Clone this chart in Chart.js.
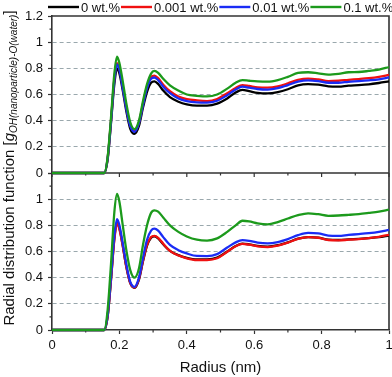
<!DOCTYPE html>
<html>
<head>
<meta charset="utf-8">
<script src="https://cdn.jsdelivr.net/npm/chart.js@4"></script>
<style>
  html, body { margin: 0; padding: 0; background: #fff; }
  #chart { display: block; }
</style>
</head>
<body>
<canvas id="chart" width="392" height="377"></canvas>
<script>
// radius (nm) sample points
const radius = [0, 0.155, 0.165, 0.175, 0.185, 0.193, 0.2, 0.21, 0.22, 0.232,
  0.245, 0.258, 0.27, 0.282, 0.294, 0.304, 0.315, 0.33, 0.35, 0.375,
  0.40, 0.43, 0.46, 0.49, 0.52, 0.545, 0.565, 0.585, 0.61, 0.64,
  0.67, 0.70, 0.73, 0.76, 0.79, 0.82, 0.85, 0.88, 0.91, 0.94, 0.97, 1.0];

const seriesLabels = ['0 wt.%', '0.001 wt.%', '0.01 wt.%', '0.1 wt.%'];
const seriesColors = ['#000000', '#f01010', '#1a2cf5', '#1c9a1c'];

// upper panel
const upper0 = [0, 0, 0.10, 0.38, 0.68, 0.80, 0.76, 0.63, 0.48, 0.34,
  0.30, 0.36, 0.50, 0.62, 0.69, 0.70, 0.68, 0.63, 0.58, 0.545,
  0.525, 0.515, 0.515, 0.53, 0.57, 0.615, 0.635, 0.625, 0.612, 0.608,
  0.618, 0.64, 0.67, 0.68, 0.675, 0.662, 0.66, 0.668, 0.672, 0.678, 0.688, 0.70];
const upper0001 = [0, 0, 0.11, 0.40, 0.72, 0.84, 0.80, 0.66, 0.51, 0.37,
  0.32, 0.385, 0.53, 0.66, 0.735, 0.745, 0.725, 0.675, 0.625, 0.585,
  0.565, 0.555, 0.55, 0.565, 0.61, 0.65, 0.672, 0.665, 0.655, 0.652,
  0.662, 0.685, 0.712, 0.722, 0.715, 0.702, 0.705, 0.712, 0.718, 0.725, 0.735, 0.75];
const upper001 = [0, 0, 0.11, 0.39, 0.71, 0.83, 0.79, 0.65, 0.50, 0.36,
  0.315, 0.38, 0.52, 0.65, 0.72, 0.73, 0.71, 0.66, 0.61, 0.57,
  0.55, 0.54, 0.538, 0.552, 0.595, 0.638, 0.66, 0.652, 0.642, 0.638,
  0.648, 0.672, 0.698, 0.708, 0.702, 0.69, 0.69, 0.697, 0.702, 0.708, 0.716, 0.73];
const upper01 = [0, 0, 0.12, 0.42, 0.76, 0.89, 0.84, 0.70, 0.54, 0.39,
  0.335, 0.40, 0.55, 0.68, 0.76, 0.78, 0.765, 0.72, 0.67, 0.63,
  0.60, 0.59, 0.585, 0.60, 0.645, 0.69, 0.71, 0.705, 0.70, 0.698,
  0.71, 0.735, 0.765, 0.77, 0.762, 0.752, 0.758, 0.77, 0.772, 0.78, 0.79, 0.81];

// lower panel
const lower0 = [0, 0, 0.10, 0.385, 0.70, 0.825, 0.78, 0.645, 0.49, 0.36,
  0.322, 0.385, 0.525, 0.645, 0.705, 0.715, 0.70, 0.655, 0.605, 0.572,
  0.552, 0.54, 0.54, 0.553, 0.60, 0.642, 0.66, 0.655, 0.643, 0.638,
  0.648, 0.67, 0.698, 0.71, 0.706, 0.69, 0.688, 0.692, 0.697, 0.703, 0.71, 0.722];
const lower0001 = [0, 0, 0.10, 0.38, 0.69, 0.816, 0.77, 0.64, 0.49, 0.36,
  0.325, 0.39, 0.53, 0.65, 0.71, 0.72, 0.705, 0.66, 0.605, 0.57,
  0.548, 0.535, 0.535, 0.548, 0.598, 0.64, 0.658, 0.652, 0.64, 0.634,
  0.645, 0.668, 0.696, 0.71, 0.705, 0.688, 0.685, 0.69, 0.695, 0.702, 0.712, 0.728];
const lower001 = [0, 0, 0.11, 0.40, 0.72, 0.847, 0.80, 0.66, 0.51, 0.37,
  0.33, 0.40, 0.55, 0.69, 0.76, 0.775, 0.76, 0.71, 0.65, 0.61,
  0.585, 0.566, 0.565, 0.58, 0.63, 0.67, 0.687, 0.682, 0.668, 0.662,
  0.672, 0.695, 0.725, 0.742, 0.738, 0.722, 0.72, 0.727, 0.733, 0.74, 0.75, 0.765];
const lower01 = [0, 0, 0.15, 0.50, 0.90, 1.04, 0.98, 0.80, 0.62, 0.46,
  0.40, 0.47, 0.65, 0.80, 0.895, 0.915, 0.905, 0.86, 0.80, 0.75,
  0.715, 0.69, 0.683, 0.70, 0.75, 0.80, 0.835, 0.83, 0.815, 0.808,
  0.825, 0.852, 0.878, 0.892, 0.885, 0.873, 0.875, 0.88, 0.886, 0.895, 0.905, 0.92];

const yMajorTicks = [0, 0.2, 0.4, 0.6, 0.8, 1, 1.2];
const xMajorTicks = [0, 0.2, 0.4, 0.6, 0.8, 1];

const FONT = "'Liberation Sans', Arial, sans-serif";
const AXIS_COLOR = '#333';
const GRID_COLOR = '#9aa8ad';
const CLEAR = 'rgba(0,0,0,0)';

function isMajor(v, list) {
    return list.some(t => Math.abs(t - v) < 1e-6);
}
function fmt(v) {
    return String(Math.round(v * 10) / 10);
}

function makeSet(label, color, values, axis, order) {
    return {
        label: label,
        data: radius.map((r, i) => ({ x: r, y: values[i] })),
        borderColor: color,
        backgroundColor: color,
        borderWidth: 2.3,
        pointRadius: 0,
        cubicInterpolationMode: 'monotone',
        clip: 3,
        yAxisID: axis,
        order: order
    };
}

function yScale(hideTop) {
    return {
        type: 'linear',
        position: 'left',
        stack: 'rdf',
        stackWeight: 1,
        min: 0,
        max: 1.2,
        ticks: {
            stepSize: 0.1,
            autoSkip: false,
            padding: 5,
            color: '#111',
            font: { family: FONT, size: 13 },
            callback: v => {
                if (!isMajor(v, yMajorTicks)) return '';
                if (hideTop && Math.abs(v - 1.2) < 1e-6) return '';
                return fmt(v);
            }
        },
        grid: {
            drawTicks: true,
            tickLength: 4,
            tickWidth: 1.2,
            lineWidth: 1,
            tickColor: ctx => ctx.tick && isMajor(ctx.tick.value, yMajorTicks) ? AXIS_COLOR : CLEAR,
            color: ctx => {
                const v = ctx.tick ? ctx.tick.value : -1;
                if (v > 0.01 && v < 1.19 && isMajor(v, yMajorTicks)) return GRID_COLOR;
                return CLEAR;
            }
        },
        border: { color: AXIS_COLOR, width: 1.6, dash: [4, 3] },
        afterFit: s => { s.width = 52; s.paddingTop = 0; s.paddingBottom = 0; }
    };
}

const framePlugin = {
    id: 'frame',
    beforeDatasetsDraw(chart) {
        const { ctx, chartArea } = chart;
        const yTop = chart.scales.yTop;
        const x = chart.scales.x;
        const mid = yTop.getPixelForValue(0);
        ctx.save();
        ctx.strokeStyle = AXIS_COLOR;
        ctx.lineWidth = 1.6;
        ctx.beginPath();
        ctx.moveTo(chartArea.left, chartArea.top);
        ctx.lineTo(chartArea.right, chartArea.top);
        ctx.lineTo(chartArea.right, chartArea.bottom);
        ctx.moveTo(chartArea.left, mid);
        ctx.lineTo(chartArea.right, mid);
        ctx.stroke();
        ctx.lineWidth = 1.2;
        ctx.beginPath();
        // ticks under the upper panel, plus short minor ticks on the outer axes
        x.ticks.forEach(t => {
            const px = x.getPixelForValue(t.value);
            const len = isMajor(t.value, xMajorTicks) ? 4 : 2.5;
            ctx.moveTo(px, mid);
            ctx.lineTo(px, mid + len);
            if (!isMajor(t.value, xMajorTicks)) {
                ctx.moveTo(px, chartArea.bottom);
                ctx.lineTo(px, chartArea.bottom + 2.5);
            }
        });
        ['yTop', 'yBot'].forEach(id => {
            const s = chart.scales[id];
            s.ticks.forEach(t => {
                if (isMajor(t.value, yMajorTicks)) return;
                const py = s.getPixelForValue(t.value);
                ctx.moveTo(chartArea.left, py);
                ctx.lineTo(chartArea.left - 2.5, py);
            });
        });
        ctx.stroke();
        ctx.restore();
    },
    afterDraw(chart) {
        const { ctx } = chart;
        ctx.save();
        // legend
        ctx.font = '13px ' + FONT;
        ctx.textBaseline = 'middle';
        let lx = 48;
        const ly = 7;
        chart.data.datasets.filter(d => d.yAxisID === 'yTop').forEach(d => {
            ctx.strokeStyle = d.borderColor;
            ctx.lineWidth = 2.4;
            ctx.beginPath();
            ctx.moveTo(lx, ly);
            ctx.lineTo(lx + 31, ly);
            ctx.stroke();
            ctx.fillStyle = '#111';
            ctx.fillText(d.label, lx + 33, ly + 1);
            lx += 33 + ctx.measureText(d.label).width + 1;
        });
        // y axis title with subscript
        const parts = [
            { t: 'Radial distribution function [', f: '15px ' + FONT, dy: 0 },
            { t: 'g', f: 'italic 15px ' + FONT, dy: 0 },
            { t: 'OH(nanoparticle)-O(water)', f: 'italic 10px ' + FONT, dy: 3 },
            { t: ']', f: '15px ' + FONT, dy: 0 }
        ];
        let total = 0;
        parts.forEach(p => { ctx.font = p.f; p.w = ctx.measureText(p.t).width; total += p.w; });
        ctx.translate(14, 168);
        ctx.rotate(-Math.PI / 2);
        ctx.textBaseline = 'alphabetic';
        ctx.fillStyle = '#111';
        let tx = -total / 2;
        parts.forEach(p => {
            ctx.font = p.f;
            ctx.fillText(p.t, tx, p.dy);
            tx += p.w;
        });
        ctx.restore();
    }
};

const canvas = document.querySelector('#chart').getContext('2d');
new Chart(canvas, {
    type: 'line',
    data: {
        datasets: [
            makeSet(seriesLabels[0], seriesColors[0], upper0, 'yTop', 4),
            makeSet(seriesLabels[1], seriesColors[1], upper0001, 'yTop', 3),
            makeSet(seriesLabels[2], seriesColors[2], upper001, 'yTop', 2),
            makeSet(seriesLabels[3], seriesColors[3], upper01, 'yTop', 1),
            makeSet(seriesLabels[0], seriesColors[0], lower0, 'yBot', 4),
            makeSet(seriesLabels[1], seriesColors[1], lower0001, 'yBot', 3),
            makeSet(seriesLabels[2], seriesColors[2], lower001, 'yBot', 2),
            makeSet(seriesLabels[3], seriesColors[3], lower01, 'yBot', 1)
        ]
    },
    options: {
        responsive: false,
        animation: false,
        layout: { padding: { top: 16, right: 3, left: 0, bottom: 0 } },
        plugins: { legend: { display: false }, tooltip: { enabled: false } },
        scales: {
            x: {
                type: 'linear',
                min: 0,
                max: 1,
                ticks: {
                    stepSize: 0.1,
                    autoSkip: false,
                    maxRotation: 0,
                    padding: 4,
                    color: '#111',
                    font: { family: FONT, size: 13 },
                    callback: v => isMajor(v, xMajorTicks) ? fmt(v) : ''
                },
                grid: {
                    drawOnChartArea: false,
                    tickLength: 4,
                    tickWidth: 1.2,
                    color: CLEAR,
                    tickColor: ctx => ctx.tick && isMajor(ctx.tick.value, xMajorTicks) ? AXIS_COLOR : CLEAR
                },
                border: { color: AXIS_COLOR, width: 1.6 },
                title: {
                    display: true,
                    text: 'Radius (nm)',
                    color: '#111',
                    font: { family: FONT, size: 15 },
                    padding: { top: 2, bottom: 0 }
                },
                afterFit: s => { s.height = 47; s.paddingLeft = 0; s.paddingRight = 0; }
            },
            yTop: Object.assign(yScale(false), { weight: 1 }),
            yBot: Object.assign(yScale(true), { weight: 0 })
        }
    },
    plugins: [framePlugin]
});
</script>
</body>
</html>
